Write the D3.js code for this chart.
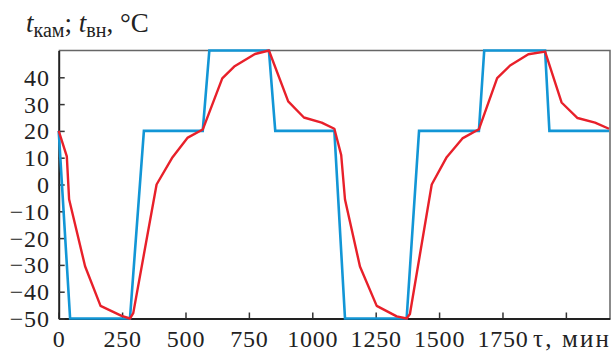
<!DOCTYPE html>
<html>
<head>
<meta charset="utf-8">
<script src="https://cdn.jsdelivr.net/npm/d3@7"></script>
<style>
  body { margin: 0; background: #fff; }
  text { font-family: "Liberation Serif", "Times New Roman", serif; fill: #222; }
</style>
</head>
<body>
<svg width="611" height="351"></svg>
<script>
// chamber set-point (blue)
var setTime = [0, 45, 281, 336, 568, 594, 829, 854, 1087, 1129, 1372, 1421, 1657, 1678, 1918, 1935, 2170];
var setTemp = [20, -50, -50, 20, 20, 50, 50, 20, 20, -50, -50, 20, 20, 50, 50, 20, 20];

// inside temperature (red)
var inTime = [0, 32, 41, 104, 165, 248, 281, 294, 386, 449, 509, 568, 645, 692, 774, 829, 905, 967, 1037, 1087,
              1114, 1129, 1188, 1254, 1333, 1372, 1385, 1471, 1530, 1592, 1657, 1729, 1780, 1852, 1918, 1983, 2046, 2115, 2170];
var inTemp = [20, 10.5, -5.5, -30.5, -45.3, -49, -50, -48, 0, 10.2, 17.5, 20.5, 39.6, 44, 48.7, 50, 31, 25, 23.1, 20.8,
              11, -5.6, -30.6, -45.3, -49.2, -50, -48.3, 0, 10.2, 17.2, 20.6, 39.7, 44.4, 48.6, 49.6, 30.6, 24.8, 23.1, 20.8];

var xTicks = [0, 250, 500, 750, 1000, 1250, 1500, 1750, 2000];
var yTicks = [-50, -40, -30, -20, -10, 0, 10, 20, 30, 40];

var svg = d3.select("svg"),
    mLeft = 58.7, mRight = 610, mTop = 50.5, mBottom = 318.5;

var x = d3.scaleLinear().domain([0, 2174]).range([mLeft, mRight]);
var y = d3.scaleLinear().domain([-50, 50]).range([mBottom, mTop]);

// frame top/right
svg.append("path")
    .attr("d", "M" + mLeft + "," + mTop + "H" + mRight + "V" + mBottom)
    .attr("fill", "none")
    .attr("stroke", "#666")
    .attr("stroke-width", 1.5);

var fmt = function(d) { return d < 0 ? "\u2212" + Math.abs(d) : "" + d; };

var xAxis = svg.append("g")
    .attr("transform", "translate(0," + mBottom + ")")
    .call(d3.axisBottom(x).tickValues(xTicks).tickSizeInner(-6).tickSizeOuter(0).tickFormat(fmt));

// the 2000 tick has no label in the original, the axis title sits there
xAxis.selectAll(".tick").filter(function(d) { return d === 2000; }).select("text").remove();

var yAxis = svg.append("g")
    .attr("transform", "translate(" + mLeft + ",0)")
    .call(d3.axisLeft(y).tickValues(yTicks).tickSizeInner(-6).tickSizeOuter(0).tickFormat(fmt));

[xAxis, yAxis].forEach(function(g) {
  g.attr("font-family", null).attr("font-size", null);
  g.select(".domain").attr("stroke", "#222").attr("stroke-width", 2);
  g.selectAll(".tick line").attr("stroke", "#333").attr("stroke-width", 1.5);
  g.selectAll("text")
      .style("font-size", "24px")
      .style("letter-spacing", "0.8px")
      .attr("fill", "#222");
});
xAxis.selectAll("text").attr("dy", null).attr("y", 28.5);
yAxis.selectAll("text").attr("x", -9).attr("dy", "0.33em");

var line = d3.line()
    .x(function(d) { return x(d[0]); })
    .y(function(d) { return y(d[1]); });

svg.append("path")
    .datum(d3.zip(setTime, setTemp))
    .attr("d", line)
    .attr("fill", "none")
    .attr("stroke", "#1296d6")
    .attr("stroke-width", 2.6)
    .attr("stroke-linejoin", "miter");

svg.append("path")
    .datum(d3.zip(inTime, inTemp))
    .attr("d", line)
    .attr("fill", "none")
    .attr("stroke", "#e8202a")
    .attr("stroke-width", 2.4)
    .attr("stroke-linejoin", "round");

// axis titles
var yt = svg.append("text").attr("x", 26).attr("y", 32).style("font-size", "27px");
yt.append("tspan").attr("font-style", "italic").text("t");
yt.append("tspan").attr("dy", 5).style("font-size", "20px").text("кам");
yt.append("tspan").attr("dy", -5).text("; ");
yt.append("tspan").attr("font-style", "italic").text("t");
yt.append("tspan").attr("dy", 5).style("font-size", "20px").text("вн");
yt.append("tspan").attr("dy", -5).text(", °C");

svg.append("text")
    .attr("x", 533).attr("y", 346.5)
    .style("font-size", "25px")
    .attr("textLength", 76)
    .attr("lengthAdjust", "spacing")
    .text("τ, мин");
</script>
</body>
</html>
